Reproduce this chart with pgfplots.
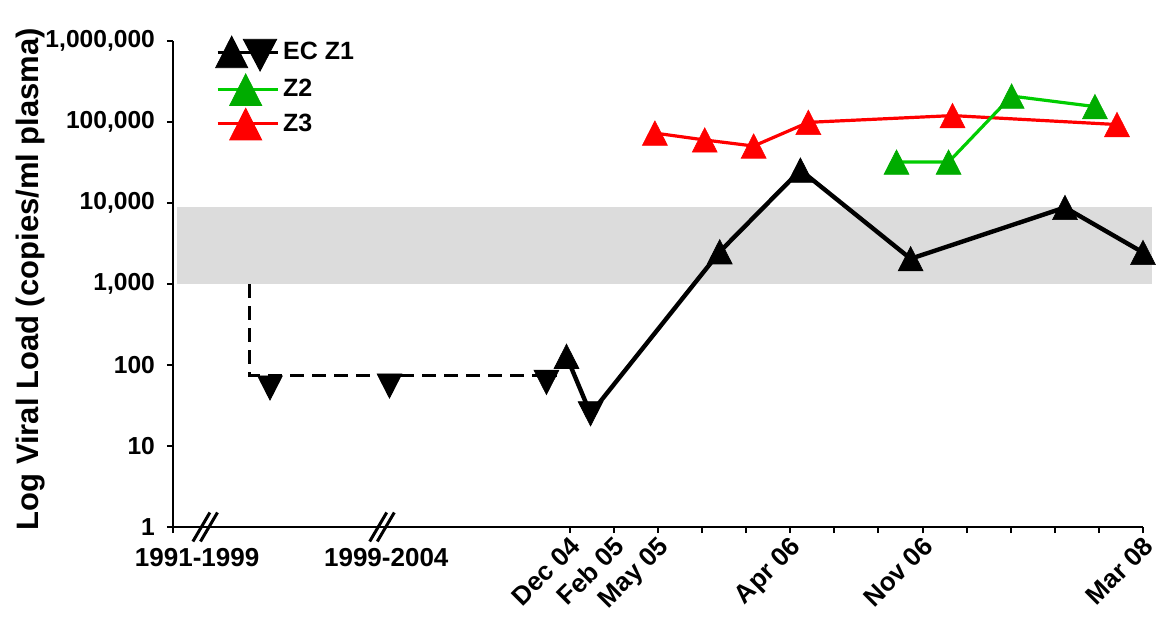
\documentclass[border=0pt]{standalone}
\usepackage{fontspec}
\setmainfont{Liberation Sans}
\usepackage{pgfplots}
\pgfplotsset{compat=1.18}

\definecolor{bandgray}{RGB}{220,220,220}
\definecolor{zred}{RGB}{255,0,0}
\definecolor{zgreenline}{RGB}{0,205,0}
\definecolor{zgreenmark}{RGB}{0,172,0}

\newcommand{\yl}[1]{\bfseries\fontsize{12.3}{15}\selectfont #1}

% triangle markers, centred on their bounding box
\pgfplotsset{
  uptri/.style={only marks, mark=triangle*, mark size=7.2pt,
    mark options={yshift=-2.03pt, yscale=1.13, fill=#1, draw=#1, line width=0.3pt}},
  downtri/.style={only marks, mark=triangle*, mark size=7.2pt,
    mark options={yshift=2.03pt, rotate=180, yscale=1.13, fill=#1, draw=#1, line width=0.3pt}},
}

\begin{document}
\begin{tikzpicture}
\useasboundingbox (-86.5pt,-45.5pt) rectangle (492.5pt,263.5pt);
\begin{axis}[
  scale only axis, width=485pt, height=243pt,
  ymode=log, ymin=1, ymax=1000000,
  xmin=-9, xmax=13,
  clip=false,
  axis x line*=bottom, axis y line*=left,
  axis line style={line width=1.1pt},
  tick style={black, line width=1pt},
  tick align=outside, major tick length=3pt,
  yminorticks=false,
  /pgf/number format/assume math mode=true,
  ytick={1,10,100,1000,10000,100000,1000000},
  yticklabels={\yl{1},\yl{10},\yl{100},\yl{1,000},\yl{10,000},\yl{100,000},\yl{1,000,000}},
  yticklabel style={xshift=-2.5pt},
  xtick={-9,0,1,2,3,4,5,6,7,8,9,10,11,12,13},
  xticklabels={,Dec 04,Feb 05,May 05,,,Apr 06,,,Nov 06,,,,,Mar 08},
  xticklabel style={xshift=-0.5pt, yshift=4pt, rotate=45, anchor=north east,
    font=\bfseries\fontsize{13}{15}\selectfont},
  extra x ticks={-8.43,-4.14},
  extra x tick labels={1991-1999,1999-2004},
  extra x tick style={major tick length=0pt,
    xticklabel style={rotate=-45, xshift=0pt, yshift=-11pt, anchor=north}},
  ylabel={Log Viral Load (copies/ml plasma)},
  ylabel style={at={(axis description cs:-0.1465,0.51)}, anchor=center,
    font=\bfseries\fontsize{15.5}{18}\selectfont},
  legend style={at={(axis description cs:0.037,1.02)}, anchor=north west,
    draw=none, fill=none, row sep=1pt,
    font=\bfseries\fontsize{12.5}{15}\selectfont},
  legend cell align=left,
]
% legend entries
\addlegendimage{legend image code/.code={
  \draw[black, line width=1.5pt] (0pt,0pt) -- (30pt,0pt);
  \fill[black] (-1pt,-7.5pt) -- (15pt,-7.5pt) -- (7pt,8.3pt) -- cycle;
  \fill[black] (12.8pt,6.7pt) -- (29.5pt,6.7pt) -- (21.2pt,-9.2pt) -- cycle;}}
\addlegendentry{EC Z1}
\addlegendimage{legend image code/.code={
  \draw[zgreenline, line width=1.5pt] (0pt,0pt) -- (30pt,0pt);
  \fill[zgreenmark] (6pt,-8pt) -- (22pt,-8pt) -- (14pt,7.8pt) -- cycle;}}
\addlegendentry{Z2}
\addlegendimage{legend image code/.code={
  \draw[zred, line width=1.5pt] (0pt,0pt) -- (30pt,0pt);
  \fill[zred] (6pt,-8pt) -- (22pt,-8pt) -- (14pt,7.8pt) -- cycle;}}
\addlegendentry{Z3}

% shaded range
\fill[bandgray] (axis cs:-8.91,1000) rectangle (axis cs:13.2,8900);

% axis breaks
\draw[black, line width=1.5pt]
  ([xshift=-6.15pt,yshift=-7.25pt]axis cs:-8.27,1) -- ([xshift=2.35pt,yshift=7.25pt]axis cs:-8.27,1);
\draw[black, line width=1.5pt]
  ([xshift=-2.35pt,yshift=-7.25pt]axis cs:-8.27,1) -- ([xshift=6.15pt,yshift=7.25pt]axis cs:-8.27,1);
\draw[black, line width=1.5pt]
  ([xshift=-6.15pt,yshift=-7.25pt]axis cs:-4.26,1) -- ([xshift=2.35pt,yshift=7.25pt]axis cs:-4.26,1);
\draw[black, line width=1.5pt]
  ([xshift=-2.35pt,yshift=-7.25pt]axis cs:-4.26,1) -- ([xshift=6.15pt,yshift=7.25pt]axis cs:-4.26,1);

% detection limit history
\addplot[black, line width=1.5pt, dash pattern=on 7pt off 4pt, forget plot]
  coordinates {(-7.27,1000) (-7.27,75) (-0.3,75)};

% Z3
\addplot[zred, line width=1.6pt, forget plot] coordinates {
  (1.93,73000) (3.06,60000) (4.17,50500) (5.41,99000) (8.68,120000) (12.41,93000)};
\addplot[uptri=zred, forget plot] coordinates {
  (1.93,73000) (3.06,60000) (4.17,50500) (5.41,99000) (8.68,120000) (12.41,93000)};

% Z2
\addplot[zgreenline, line width=1.6pt, forget plot] coordinates {
  (7.41,32000) (8.59,32000) (10.02,209000) (11.91,155000)};
\addplot[uptri=zgreenmark, forget plot] coordinates {
  (7.41,32000) (8.59,32000) (10.02,209000) (11.91,155000)};

% EC Z1
\addplot[black, line width=2.2pt, forget plot] coordinates {
  (-0.075,128) (0.47,25) (3.40,2500) (5.23,25500) (7.73,2050) (11.23,8800) (13.0,2450)};
\addplot[uptri=black, forget plot] coordinates {
  (-0.075,128) (3.40,2500) (5.23,25500) (7.73,2050) (11.23,8800) (13.0,2450)};
\addplot[downtri=black, forget plot] coordinates {
  (-6.80,52) (-4.09,55) (-0.53,61) (0.47,25)};
\end{axis}
\end{tikzpicture}
\end{document}
